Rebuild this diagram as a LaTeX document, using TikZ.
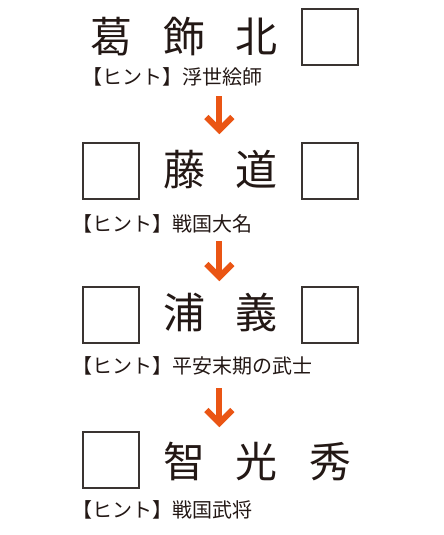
\documentclass[tikz,border=0pt]{standalone}
\usepackage{fontspec}
\newfontfamily\jpfont{Noto Sans CJK JP}
\usetikzlibrary{calc}
\definecolor{ink}{HTML}{231815}
\definecolor{boxline}{HTML}{3A3431}
\definecolor{arrowor}{HTML}{EA5514}
\tikzset{
  bigchar/.style={inner sep=0pt, text=ink, font=\jpfont\fontsize{42}{42}\selectfont, text height=36.96pt, text depth=5.04pt, anchor=center},
  hint/.style={inner sep=0pt, text=ink, font=\jpfont\fontsize{20}{20}\selectfont, text height=17.6pt, text depth=2.4pt, anchor=west},
  blank/.style={draw=boxline, line width=2pt, minimum width=56pt, minimum height=56pt, inner sep=0pt, anchor=center},
  arr/.style={draw=arrowor, line width=6pt, miter limit=10},
}
\begin{document}
\begin{tikzpicture}[x=1pt,y=-1pt]
\useasboundingbox (0,0) rectangle (444,535);
% row 1
\node[bigchar] (k11) at (111,37) {葛};
\node[bigchar] (k12) at (184,37) {飾};
\node[bigchar] (k13) at (256,37) {北};
\node[blank] (b14) at (330,37) {};
\node[hint] (h1) at (82,77) {【ヒント】浮世絵師};
% row 2
\node[blank] (b21) at (110.5,171) {};
\node[bigchar] (k22) at (184,170) {藤};
\node[bigchar] (k23) at (256.5,170) {道};
\node[blank] (b24) at (330,171) {};
\node[hint] (h2) at (72,224) {【ヒント】戦国大名};
% row 3
\node[blank] (b31) at (110.5,315) {};
\node[bigchar] (k32) at (184,313) {浦};
\node[bigchar] (k33) at (256.5,313) {義};
\node[blank] (b34) at (330,315) {};
\node[hint] (h3) at (72,366) {【ヒント】平安末期の武士};
% row 4
\node[blank] (b41) at (110.5,460) {};
\node[bigchar] (k42) at (184,462) {智};
\node[bigchar] (k43) at (256.5,462) {光};
\node[bigchar] (k44) at (330,462) {秀};
\node[hint] (h4) at (72,510) {【ヒント】戦国武将};
% arrows
\coordinate (a1s) at (219.3,96);
\coordinate (a1e) at (219.3,130);
\coordinate (a2s) at (219.3,241);
\coordinate (a2e) at (219.3,277);
\coordinate (a3s) at (219.3,388);
\coordinate (a3e) at (219.3,423);
\foreach \a in {1,2,3}{
  \draw[arr] (a\a s) -- ($(a\a e)+(0,-1)$);
  \draw[arr] ($(a\a e)+(-13,-13)$) -- (a\a e) -- ($(a\a e)+(13,-13)$);
}
\end{tikzpicture}
\end{document}
